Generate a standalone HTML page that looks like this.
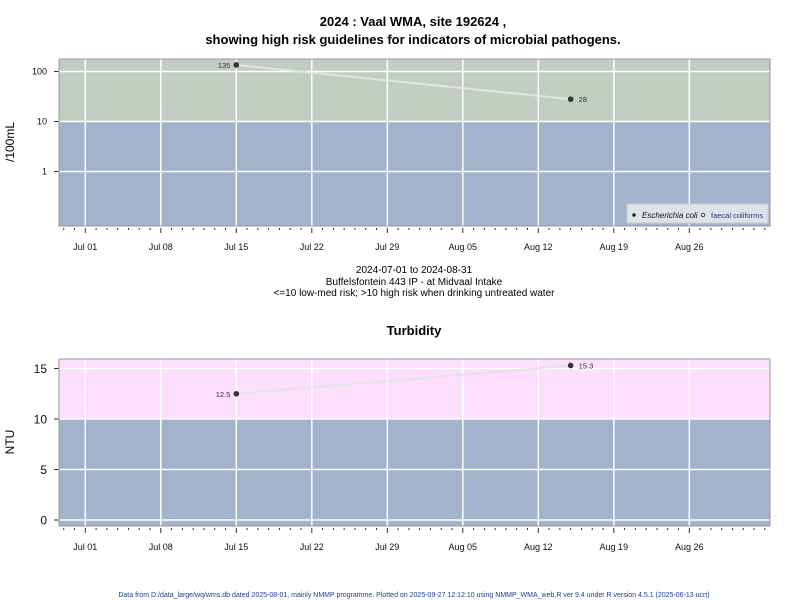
<!DOCTYPE html>
<html><head><meta charset="utf-8">
<style>body{margin:0;background:#fff}svg{display:block;font-family:"Liberation Sans",Arial,sans-serif}</style>
</head><body>
<svg id="c" width="800" height="600" xmlns="http://www.w3.org/2000/svg">
<text x="413" y="26" text-anchor="middle" font-size="13" font-weight="bold">2024 : Vaal WMA, site 192624 ,</text>
<text x="413" y="44" text-anchor="middle" font-size="13" font-weight="bold">showing high risk guidelines for indicators of microbial pathogens.</text>
<text x="414" y="273" text-anchor="middle" font-size="10">2024-07-01 to 2024-08-31</text>
<text x="414" y="285" text-anchor="middle" font-size="10">Buffelsfontein 443 IP - at Midvaal Intake</text>
<text x="414" y="296" text-anchor="middle" font-size="10">&lt;=10 low-med risk; &gt;10 high risk when drinking untreated water</text>
<text x="414" y="335" text-anchor="middle" font-size="13" font-weight="bold">Turbidity</text>
<text x="414" y="597" text-anchor="middle" font-size="7" fill="#1a3f8f">Data from D:/data_large/wq/wms.db dated 2025-08-01, mainly NMMP programme. Plotted on 2025-09-27 12:12:10 using NMMP_WMA_web.R ver 9.4 under R version 4.5.1 (2025-06-13 ucrt)</text>
<text transform="translate(14,142) rotate(-90)" text-anchor="middle" font-size="12">/100mL</text>
<text transform="translate(14,442) rotate(-90)" text-anchor="middle" font-size="12">NTU</text>
<g id="legend">
<rect x="627" y="204" width="141" height="19" fill="#dde3ea" stroke="#c8ccd2"/>
<circle cx="634" cy="215" r="1.8" fill="#222"/>
<text x="642" y="218" font-size="8" font-style="italic" fill="#111">Escherichia coli</text>
<circle cx="703" cy="215" r="1.8" fill="none" stroke="#222" stroke-width="0.8"/>
<text x="711" y="218" font-size="7.5" fill="#223a70">faecal coliforms</text>
</g>
</svg>
<script>
const xTickLabels=["Jul 01","Jul 08","Jul 15","Jul 22","Jul 29","Aug 05","Aug 12","Aug 19","Aug 26"];
const xTickDays=[0,7,14,21,28,35,42,49,56];
const ecoliDays=[14,45];
const ecoliValues=[135,28];
const turbDays=[14,45];
const turbValues=[12.5,15.3];
const topTicks=[1,10,100];
const botTicks=[0,5,10,15];
const NS="http://www.w3.org/2000/svg";
const svg=document.getElementById('c');
const legend=document.getElementById('legend');
function mk(t,a){const e=document.createElementNS(NS,t);for(const k in a)e.setAttribute(k,a[k]);svg.insertBefore(e,legend);return e;}
const X0=59,X1=770;
const xs=d=>85.3+d*10.786;
function panel(top,bot,yfn,ticks,thr,hiColor,days,vals,tickFont,name){
  const yt=yfn(thr);
  const r1=mk('rect',{x:X0,y:top,width:X1-X0,height:yt-top,fill:hiColor});
  
  
  const r2=mk('rect',{x:X0,y:yt,width:X1-X0,height:bot-yt,fill:'#a2b3cb'});
  
  
  xTickDays.forEach(d=>{const l=mk('line',{x1:xs(d),x2:xs(d),y1:top,y2:bot,stroke:'#fff','stroke-width':1.5});
    
    });
  ticks.forEach(v=>{const y=yfn(v);
    const l=mk('line',{x1:X0,x2:X1,y1:y,y2:y,stroke:'#fff','stroke-width':1.5});
    
    
    const t=mk('line',{x1:X0-5,x2:X0,y1:y,y2:y,stroke:'#333'});
    
    
    const tx=mk('text',{x:X0-12,y:y+tickFont*0.36,'text-anchor':'end','font-size':tickFont,fill:'#111'});
    tx.textContent=String(v);
    
    });
  const fr=mk('rect',{x:X0,y:top,width:X1-X0,height:bot-top,fill:'none',stroke:'#999'});
  
  
  for(let d=-2;d<=63;d++){const maj=xTickDays.includes(d);
    const l=mk('line',{x1:xs(d),x2:xs(d),y1:bot+2,y2:bot+(maj?7:4),stroke:'#333'});
    
    }
  xTickDays.forEach((d,i)=>{const t=mk('text',{x:xs(d),y:bot+24,'text-anchor':'middle','font-size':9,fill:'#111'});
    t.textContent=xTickLabels[i];
    
    });
  const pl=mk('polyline',{points:days.map((d,i)=>xs(d)+','+yfn(vals[i])).join(' '),fill:'none',stroke:'#e4e4e4','stroke-width':2});
  
  
  days.forEach((d,i)=>{const cx=xs(d),cy=yfn(vals[i]);
    const c=mk('circle',{cx:cx,cy:cy,r:2.8,fill:'#333'});
    
    
    const first=i===0;
    const t=mk('text',{x:first?cx-6:cx+8,y:cy+3,'text-anchor':first?'end':'start','font-size':7.5,fill:'#333'});
    t.textContent=String(vals[i]);
    
    });
}
panel(59,226,v=>171.5-50*Math.log10(v),topTicks,10,'#c2cdc2',ecoliDays,ecoliValues,9,'ecoli');
panel(359,526,v=>520-10.1*v,botTicks,10,'#fddefd',turbDays,turbValues,12,'turbidity');
</script>
</body></html>
